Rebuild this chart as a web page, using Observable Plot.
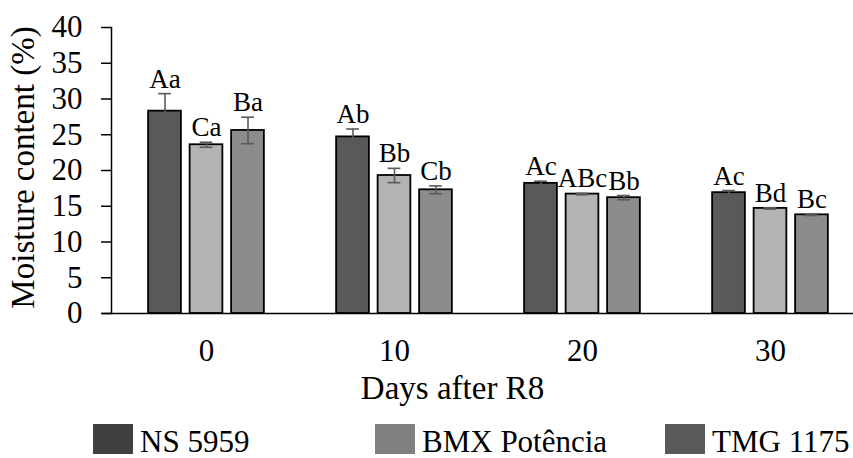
<!DOCTYPE html>
<html>
<head>
<meta charset="utf-8">
<script src="https://cdn.jsdelivr.net/npm/d3@7"></script>
<script src="https://cdn.jsdelivr.net/npm/@observablehq/plot@0.6"></script>
<style>
  html, body { margin: 0; padding: 0; background: #fff; }
  #wrap { position: relative; width: 853px; height: 458px; overflow: hidden; font-family: "Liberation Serif", "Times New Roman", serif; }
  #legend { position: absolute; left: 0; top: 410px; width: 853px; height: 48px; }
  .item { position: absolute; top: 14px; display: flex; align-items: flex-start; white-space: nowrap; }
  .sw { width: 40px; height: 30px; }
  .lab { font-size: 31px; line-height: 31px; margin-left: 7px; margin-top: 2px; color: #000; }
</style>
</head>
<body>
<div id="wrap">
  <div id="chart"></div>
  <div id="legend"></div>
</div>
<script>
const days = [0, 10, 20, 30];
const cultivars = ["NS 5959", "BMX Potência", "TMG 1175"];
const ns5959 = [28.3, 24.7, 18.2, 16.9];
const ns5959Err = [2.45, 1.1, 0.3, 0.3];
const ns5959Letters = ["Aa", "Ab", "Ac", "Ac"];
const bmx = [23.6, 19.3, 16.7, 14.7];
const bmxErr = [0.35, 1.0, 0.1, 0.1];
const bmxLetters = ["Ca", "Bb", "ABc", "Bd"];
const tmg = [25.6, 17.3, 16.2, 13.8];
const tmgErr = [1.85, 0.55, 0.3, 0.1];
const tmgLetters = ["Ba", "Cb", "Bb", "Bc"];
const yTicks = [0, 5, 10, 15, 20, 25, 30, 35, 40];

const barFill = ["#595959", "#b3b3b3", "#8c8c8c"];
const legendFill = ["#404040", "#808080", "#5a5a5a"];

const series = [
  {name: cultivars[0], values: ns5959, err: ns5959Err, letters: ns5959Letters},
  {name: cultivars[1], values: bmx, err: bmxErr, letters: bmxLetters},
  {name: cultivars[2], values: tmg, err: tmgErr, letters: tmgLetters}
];

const bandW = 188.25, barW = 33, step = 41.5;
const inset = (bandW - barW) / 2;
const capInset = (bandW - 13) / 2;

const marks = [];
series.forEach((s, i) => {
  const rows = days.map((d, j) => ({day: d, value: s.values[j], err: s.err[j], lo: s.values[j] - s.err[j], hi: s.values[j] + s.err[j], letter: s.letters[j]}));
  const dx = (i - 1) * step;
  marks.push(Plot.barY(rows, {x: "day", y: "value", fill: barFill[i], stroke: "#000", strokeWidth: 1.8, insetLeft: inset, insetRight: inset, dx}));
  marks.push(Plot.ruleX(rows, {x: "day", y1: "lo", y2: "hi", stroke: "#5a5a5a", strokeWidth: 1.6, dx}));
  marks.push(Plot.tickY(rows, {x: "day", y: "hi", stroke: "#5a5a5a", strokeWidth: 1.6, insetLeft: capInset, insetRight: capInset, dx}));
  marks.push(Plot.tickY(rows, {x: "day", y: "lo", stroke: "#5a5a5a", strokeWidth: 1.6, insetLeft: capInset, insetRight: capInset, dx}));
  marks.push(Plot.text(rows, {x: "day", y: "hi", text: "letter", dx, dy: -6, lineAnchor: "bottom", fontSize: 27, fill: "#000"}));
});

const chart = Plot.plot({
  width: 853,
  height: 410,
  marginLeft: 111,
  marginRight: 0,
  marginTop: 27,
  marginBottom: 97,
  style: {fontFamily: "Liberation Serif, Times New Roman, serif", fontSize: "31px", color: "#000", background: "#fff"},
  x: {type: "band", domain: days, range: [111, 864], padding: 0},
  y: {domain: [0, 40], range: [313, 27]},
  marks: [
    ...marks,
    Plot.ruleY([0], {stroke: "#000", strokeWidth: 1.5, insetLeft: -9}),
    Plot.frame({anchor: "left", stroke: "#000", strokeWidth: 1.5}),
    Plot.axisY({ticks: yTicks, tickSize: 10, tickPadding: 19, tickFormat: d => String(d), label: null, fontSize: 31, strokeWidth: 1.5}),
    Plot.axisX({tickSize: 0, tickPadding: 25, tickFormat: d => String(d), label: null, fontSize: 31}),
    Plot.text(["Moisture content (%)"], {frameAnchor: "left", dx: -88, dy: -3, rotate: -90, textAnchor: "middle", lineAnchor: "middle", fontSize: 33, fill: "#000"}),
    Plot.text(["Days after R8"], {frameAnchor: "bottom", dx: -30, dy: 75, lineAnchor: "middle", fontSize: 33, fill: "#000"})
  ]
});
document.getElementById("chart").appendChild(chart);

const legendLeft = [93, 375, 665];
const legend = document.getElementById("legend");
cultivars.forEach((c, i) => {
  const it = document.createElement("div");
  it.className = "item";
  it.style.left = legendLeft[i] + "px";
  const sw = document.createElement("div");
  sw.className = "sw";
  sw.style.background = legendFill[i];
  const lab = document.createElement("span");
  lab.className = "lab";
  lab.textContent = c;
  it.appendChild(sw);
  it.appendChild(lab);
  legend.appendChild(it);
});
</script>
</body>
</html>
